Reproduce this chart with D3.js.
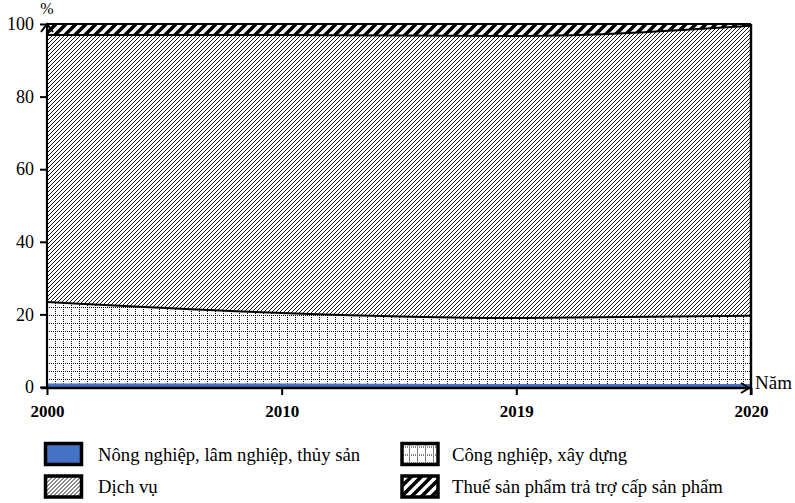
<!DOCTYPE html>
<html><head><meta charset="utf-8">
<script src="https://cdn.jsdelivr.net/npm/d3@7"></script>
<style>body{margin:0;background:#fff}</style>
</head><body><svg id="c" width="795" height="503"></svg>
<script>
const years=["2000","2010","2019","2020"];
const agri=[1.0,1.0,0.8,0.9];
const indus=[22.4,19.4,18.2,18.7];
const serv=[73.6,76.6,77.7,79.9];
const tax=[3.0,3.0,3.3,0.5];
const yTicks=[0,20,40,60,80,100];
const seriesNames=["Nông nghiệp, lâm nghiệp, thủy sản","Công nghiệp, xây dựng","Dịch vụ","Thuế sản phẩm trả trợ cấp sản phẩm"];
const keys=["agri","indus","serv","tax"];
const FONT="'Liberation Serif'";

const svg=d3.select("#c");
const defs=svg.append("defs");
const ps=defs.append("pattern").attr("id","pServ").attr("patternUnits","userSpaceOnUse").attr("width",4).attr("height",4);
ps.append("rect").attr("width",4).attr("height",4).attr("fill","#fff");
ps.append("path").attr("d","M-1,1 L1,-1 M0,4 L4,0 M3,5 L5,3").attr("stroke","#000").attr("stroke-width",0.9);
const pt=defs.append("pattern").attr("id","pTax").attr("patternUnits","userSpaceOnUse").attr("width",10).attr("height",10);
pt.append("rect").attr("width",10).attr("height",10).attr("fill","#fff");
pt.append("path").attr("d","M-2.5,2.5 L2.5,-2.5 M0,10 L10,0 M7.5,12.5 L12.5,7.5").attr("stroke","#000").attr("stroke-width",3.6);
const pi=defs.append("pattern").attr("id","pInd").attr("patternUnits","userSpaceOnUse").attr("width",8).attr("height",8).attr("x",47).attr("y",387);
pi.append("rect").attr("width",8).attr("height",8).attr("fill","#fff");
d3.range(0,8,2).forEach(i=>{
  pi.append("rect").attr("x",i).attr("y",0).attr("width",1).attr("height",1).attr("fill","#000");
  if(i>0) pi.append("rect").attr("x",0).attr("y",i).attr("width",1).attr("height",1).attr("fill","#000");
});
const fills={agri:"#4472C4",indus:"url(#pInd)",serv:"url(#pServ)",tax:"url(#pTax)"};

const x=d3.scalePoint().domain(years).range([47,751]);
const y=d3.scaleLinear().domain([0,100]).range([387,24]);

const table=years.map((yr,i)=>({year:yr,agri:agri[i],indus:indus[i],serv:serv[i],tax:tax[i]}));
const stack=d3.stack().keys(keys)(table);
const curve=d3.curveMonotoneX;
const area=d3.area().x(d=>x(d.data.year)).y0(d=>y(d[0])).y1(d=>y(d[1])).curve(curve);
const line=d3.line().x(d=>x(d.data.year)).y(d=>y(d[1])).curve(curve);

svg.append("g").selectAll("path").data(stack).join("path")
  .attr("d",area).attr("fill",d=>fills[d.key]).attr("stroke","none");
svg.append("g").selectAll("path").data(stack.slice(1)).join("path")
  .attr("d",line).attr("fill","none").attr("stroke","#000").attr("stroke-width",2);

const yAxis=svg.append("g").attr("transform","translate(47,0)")
  .call(d3.axisLeft(y).tickValues(yTicks).tickSize(7).tickPadding(6));
yAxis.select(".domain").attr("stroke","#000").attr("stroke-width",2.2).attr("d","M0,387V24");
yAxis.selectAll(".tick line").attr("stroke","#000").attr("stroke-width",2);
yAxis.selectAll(".tick text").style("font-size","18px").style("font-family",FONT).attr("fill","#000").attr("dy","0.32em");
svg.append("path").attr("d","M41,32 L47,24 L53,32").attr("fill","none").attr("stroke","#000").attr("stroke-width",2);
svg.append("text").attr("x",47).attr("y",14).attr("text-anchor","middle").style("font-size","16px").style("font-family",FONT).text("%");

const xAxis=svg.append("g").attr("transform","translate(0,388)")
  .call(d3.axisBottom(x).tickSize(7).tickPadding(10));
xAxis.select(".domain").attr("stroke","#000").attr("stroke-width",2.4).attr("d","M41,0H751");
xAxis.selectAll(".tick line").attr("stroke","#000").attr("stroke-width",2);
xAxis.selectAll(".tick text").style("font-size","17px").style("font-weight","bold").style("font-family",FONT).attr("fill","#000");
svg.append("path").attr("d","M741,383 L749,388 L741,393").attr("fill","none").attr("stroke","#000").attr("stroke-width",2);
svg.append("line").attr("x1",751).attr("x2",751).attr("y1",y(100)).attr("y2",395).attr("stroke","#000").attr("stroke-width",2.4);
svg.append("text").attr("x",755).attr("y",389).style("font-size","19px").style("font-family",FONT).text("Năm");

const leg=[{k:"agri",n:seriesNames[0],c:0,r:0},{k:"indus",n:seriesNames[1],c:1,r:0},{k:"serv",n:seriesNames[2],c:0,r:1},{k:"tax",n:seriesNames[3],c:1,r:1}];
const lg=svg.append("g").selectAll("g").data(leg).join("g")
  .attr("transform",d=>`translate(${d.c?402:45.5},${d.r?476:443.5})`);
lg.append("rect").attr("width",36).attr("height",21).attr("fill",d=>fills[d.k]).attr("stroke","#000").attr("stroke-width",3.5);
lg.append("text").attr("x",d=>d.c?50:52.5).attr("y",17).style("font-size","18.7px").style("font-family",FONT).text(d=>d.n);
</script></body></html>
